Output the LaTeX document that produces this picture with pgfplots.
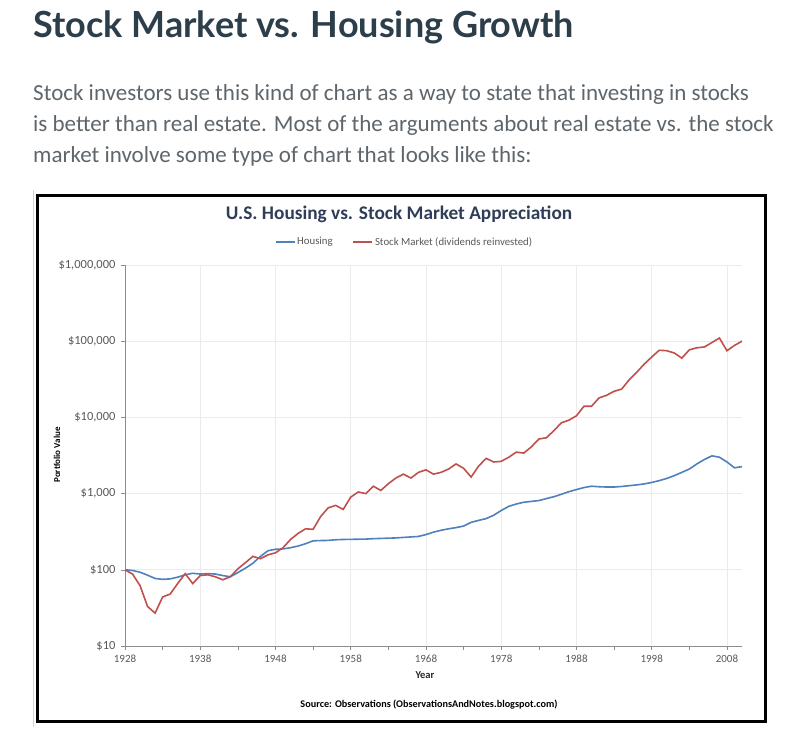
\documentclass[border=0pt]{standalone}
\usepackage{fontspec}
\setmainfont{Carlito}
\newfontfamily\headfont{Lato}
\usepackage{pgfplots}
\pgfplotsset{compat=1.18}
\definecolor{hblue}{HTML}{4F81BD}
\definecolor{sred}{HTML}{C0504D}
\definecolor{headc}{HTML}{2C3E4A}
\definecolor{bodyc}{HTML}{5E666C}
\definecolor{titlec}{HTML}{2F3E58}
\definecolor{tickc}{HTML}{595959}
\definecolor{axc}{HTML}{8C8C8C}
\definecolor{gridc}{HTML}{EBEBEB}
\begin{document}
\begin{tikzpicture}
\begin{scope}[x=1pt,y=1pt]
\path[use as bounding box, fill=white] (0,0) rectangle (787,737);
\node[anchor=base west, inner sep=0, text=headc, font=\headfont\bfseries\fontsize{36}{40}\selectfont] at (33,699) {Stock Market vs. Housing Growth};
\begin{scope}[every node/.style={anchor=base west, inner sep=0, text=bodyc, font=\fontsize{23}{27}\selectfont}]
\node at (33,636) {Stock investors use this kind of chart as a way to state that investing in stocks};
\node at (33,605) {is better than real estate. Most of the arguments about real estate vs. the stock};
\node at (33,574) {market involve some type of chart that looks like this:};
\end{scope}
\draw[gray!35, line width=0.8] (33,547) -- (33,10);
\draw[black, line width=2.8] (37.5,541.5) rectangle (765.5,15.5);
\node[text=titlec, font=\bfseries\fontsize{19.3}{22}\selectfont] at (399,523) {U.S. Housing vs. Stock Market Appreciation};
\node[rotate=90, font=\bfseries\fontsize{9}{10}\selectfont] at (57,282) {Portfolio Value};
\node[font=\bfseries\fontsize{10.5}{12}\selectfont, text=black!85] at (425,62) {Year};
\node[font=\bfseries\fontsize{10.2}{12}\selectfont] at (429,32) {Source: Observations (ObservationsAndNotes.blogspot.com)};
\end{scope}
\begin{axis}[
  at={(125pt,91pt)}, anchor=south west,
  scale only axis, width=617pt, height=381pt,
  ymode=log, ymin=10, ymax=1000000,
  xmin=1928, xmax=2010,
  axis x line*=bottom, axis y line*=left,
  axis line style={axc, line width=0.8pt},
  xtick={1928,1938,...,2008},
  xticklabels={1928,1938,1948,1958,1968,1978,1988,1998,2008},
  minor xtick={1933,1943,...,2003},
  ytick={10,100,1000,10000,100000,1000000},
  yticklabels={\$10,\$100,\$1{,}000,\$10{,}000,\$100{,}000,\$1{,}000{,}000},
  log basis y=10,
  yminorticks=false,
  tick align=outside,
  major tick length=4pt, minor tick length=4pt,
  tick style={axc, line width=0.6pt},
  tick label style={text=tickc},
  xticklabel style={font=\fontsize{11}{13}\selectfont, yshift=-1pt},
  yticklabel style={font=\fontsize{12.5}{14}\selectfont, xshift=-2pt},
  xmajorgrids, ymajorgrids,
  major grid style={gridc, line width=0.7pt},
  legend columns=2,
  legend style={draw=none, fill=none, at={(0.5,1)}, anchor=center, xshift=-29pt, yshift=23pt,
    font=\fontsize{10.8}{12}\selectfont, text=tickc,
    /tikz/every even column/.append style={column sep=18pt}},
  legend image code/.code={\draw[#1, line width=1.3pt] (0pt,0pt) -- (19pt,0pt);},
  legend cell align=left,
]
\addplot[hblue, line width=1.6pt] table {
1928 100
1929 98
1930 93
1931 85
1932 77
1933 75
1934 76
1935 80
1936 86
1937 90
1938 88
1939 89
1940 88
1941 84
1942 81
1943 92
1944 105
1945 122
1946 150
1947 178
1948 186
1949 188
1950 195
1951 205
1952 220
1953 240
1954 242
1955 243
1956 248
1957 250
1958 251
1959 252
1960 253
1961 256
1962 258
1963 260
1964 262
1965 266
1966 270
1967 274
1968 290
1969 312
1970 330
1971 345
1972 358
1973 375
1974 420
1975 445
1976 470
1977 520
1978 600
1979 680
1980 730
1981 770
1982 790
1983 810
1984 860
1985 910
1986 980
1987 1060
1988 1130
1989 1200
1990 1250
1991 1230
1992 1220
1993 1220
1994 1240
1995 1270
1996 1300
1997 1340
1998 1400
1999 1480
2000 1580
2001 1720
2002 1900
2003 2100
2004 2450
2005 2800
2006 3130
2007 3000
2008 2600
2009 2180
2010 2260
};
\addlegendentry{Housing}
\addplot[sred, line width=1.6pt] table {
1928 100
1929 88
1930 62
1931 33
1932 27
1933 44
1934 48
1935 66
1936 89
1937 66
1938 84
1939 86
1940 81
1941 74
1942 81
1943 103
1944 124
1945 150
1946 140
1947 157
1948 167
1949 195
1950 250
1951 300
1952 345
1953 340
1954 500
1955 650
1956 700
1957 620
1958 900
1959 1050
1960 1000
1961 1250
1962 1100
1963 1350
1964 1600
1965 1800
1966 1600
1967 1900
1968 2050
1969 1800
1970 1900
1971 2100
1972 2450
1973 2150
1974 1650
1975 2300
1976 2900
1977 2600
1978 2650
1979 3000
1980 3500
1981 3400
1982 4100
1983 5200
1984 5400
1985 6700
1986 8500
1987 9200
1988 10500
1989 14000
1990 14000
1991 18000
1992 19500
1993 22000
1994 23500
1995 31000
1996 39000
1997 50000
1998 62000
1999 76000
2000 75000
2001 70000
2002 60000
2003 77000
2004 82000
2005 84000
2006 96000
2007 110000
2008 75000
2009 88000
2010 100000
};
\addlegendentry{Stock Market (dividends reinvested)}
\end{axis}
\end{tikzpicture}
\end{document}
